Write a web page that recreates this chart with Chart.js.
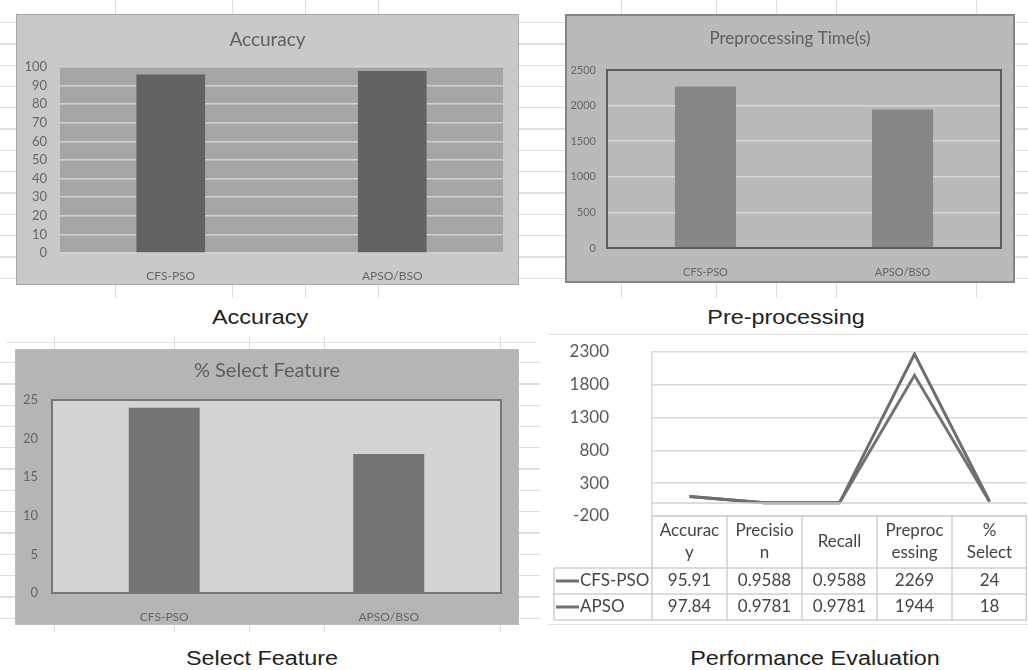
<!DOCTYPE html>
<html>
<head>
<meta charset="utf-8">
<title>Performance Evaluation</title>
<script src="https://cdn.jsdelivr.net/npm/chart.js@4.4.0/dist/chart.umd.min.js"></script>
<style>
    body { margin: 0; width: 1028px; height: 670px; position: relative; background: #fff; overflow: hidden; font-family: Lato, sans-serif; }
    .sheet { position: absolute; background-image: repeating-linear-gradient(to bottom, transparent 0 20px, #dedede 20px 21.3px); }
    .vl { position: absolute; width: 1px; background: #dcdcdc; }
    .hl { position: absolute; height: 1px; background: #e2e2e2; }
    .panel { position: absolute; box-sizing: border-box; }
    .panel canvas, #perfChart { display: block; }
    .cap { position: absolute; font-family: 'Liberation Sans', Arial, sans-serif; font-size: 20px; color: #222;
        transform: translate(-50%, -50%) scaleX(1.17); white-space: nowrap; }
</style>
</head>
<body>
<!-- spreadsheet cell lines behind the charts -->
<div class="sheet" style="left:0;top:2px;width:1028px;height:296px;"></div>
<div class="vl" style="left:115px;top:0;height:298px"></div>
<div class="vl" style="left:232px;top:0;height:298px"></div>
<div class="vl" style="left:305px;top:0;height:298px"></div>
<div class="vl" style="left:378px;top:0;height:298px"></div>
<div class="vl" style="left:621px;top:0;height:298px"></div>
<div class="vl" style="left:716px;top:0;height:298px"></div>
<div class="vl" style="left:776px;top:0;height:298px"></div>
<div class="vl" style="left:836px;top:0;height:298px"></div>
<div class="vl" style="left:976px;top:0;height:298px"></div>
<div class="sheet" style="left:0;top:342px;width:540px;height:290px;"></div>
<div class="hl" style="left:6px;top:342px;width:530px"></div>
<div class="vl" style="left:54px;top:336px;height:296px"></div>
<div class="vl" style="left:174px;top:336px;height:296px"></div>
<div class="vl" style="left:249px;top:336px;height:296px"></div>
<div class="vl" style="left:324px;top:336px;height:296px"></div>
<div class="vl" style="left:500px;top:336px;height:296px"></div>
<div class="hl" style="left:548px;top:334px;width:480px"></div>
<div class="hl" style="left:548px;top:624px;width:480px"></div>

<div class="panel" style="left:16px;top:14px;width:503px;height:271px;border:1px solid #a8a8a8;background:#c9c9c9;">
    <canvas id="accChart" width="501" height="269"></canvas>
</div>
<div class="panel" style="left:565px;top:14px;width:450px;height:269px;border:2px solid #858585;background:#bababa;">
    <canvas id="preChart" width="446" height="265"></canvas>
</div>
<div class="panel" style="left:15px;top:349px;width:504px;height:276px;border:1px solid #bdbdbd;background:#b5b5b5;">
    <canvas id="selChart" width="502" height="274"></canvas>
</div>
<canvas id="perfChart" width="488" height="290" style="position:absolute;left:540px;top:338px;"></canvas>

<div class="cap" style="left:260px;top:317px">Accuracy</div>
<div class="cap" style="left:786px;top:317px">Pre-processing</div>
<div class="cap" style="left:262px;top:658px">Select Feature</div>
<div class="cap" style="left:815px;top:658px">Performance Evaluation</div>

<script>
// data
const methods = ['CFS-PSO', 'APSO/BSO'];
const accuracy = [95.91, 97.84];
const preprocTime = [2269, 1944];
const selectPct = [24, 18];

const perfCategories = [['Accurac', 'y'], ['Precisio', 'n'], ['Recall'], ['Preproc', 'essing'], ['%', 'Select']];
const seriesNames = ['CFS-PSO', 'APSO'];
const cfsPso = [95.91, 0.9588, 0.9588, 2269, 24];
const apso = [97.84, 0.9781, 0.9781, 1944, 18];

// fill the plot area and draw its frame
const plotBg = {
    id: 'plotBg',
    beforeDraw(chart, args, o) {
        const a = chart.chartArea, ctx = chart.ctx;
        if (o.fill) {
            ctx.save();
            ctx.fillStyle = o.fill;
            ctx.fillRect(a.left, a.top, a.width, a.height);
            ctx.restore();
        }
    },
    afterDraw(chart, args, o) {
        const a = chart.chartArea, ctx = chart.ctx;
        if (o.border) {
            ctx.save();
            ctx.strokeStyle = o.border;
            ctx.lineWidth = o.borderWidth || 2;
            ctx.strokeRect(a.left, a.top, a.width, a.height);
            ctx.restore();
        }
    }
};

function makeBar(id, values, c) {
    return new Chart(document.getElementById(id), {
        type: 'bar',
        data: {
            labels: methods,
            datasets: [{
                data: values,
                backgroundColor: c.bar,
                barPercentage: c.barPct,
                categoryPercentage: 1
            }]
        },
        options: {
            responsive: false,
            animation: false,
            layout: {padding: 0},
            plugins: {
                legend: {display: false},
                tooltip: {enabled: false},
                title: {
                    display: true,
                    text: c.title,
                    color: '#5e5e5e',
                    font: {family: 'Lato', size: c.titleSize, weight: 'normal'},
                    padding: {top: c.titleTop, bottom: c.titleBottom}
                },
                plotBg: {fill: c.plotFill, border: c.plotBorder, borderWidth: 2}
            },
            scales: {
                x: {
                    grid: {display: false},
                    border: {display: false},
                    ticks: {color: '#666', font: {family: 'Lato', size: c.xFont}, padding: c.xPad},
                    afterFit: s => { s.height = c.xH; }
                },
                y: {
                    min: 0,
                    max: c.max,
                    ticks: {stepSize: c.step, color: '#666', font: {family: 'Lato', size: c.yFont}, padding: c.yPad,
                        callback: v => String(v)},
                    grid: {display: !!c.gridColor, color: c.gridColor, lineWidth: 1.5, drawTicks: false},
                    border: {display: false},
                    afterFit: s => { s.width = c.yW; }
                },
                // empty right margin, keeps the title centred on the whole panel
                yRight: {
                    position: 'right',
                    grid: {display: false},
                    border: {display: false},
                    ticks: {display: false},
                    afterFit: s => { s.width = c.padRight; }
                }
            }
        },
        plugins: [plotBg]
    });
}

makeBar('accChart', accuracy, {
    title: 'Accuracy', titleSize: 19, titleTop: 13.6, titleBottom: 15.6,
    bar: '#636363', barPct: 0.31, plotFill: '#a6a6a6', gridColor: '#d2d2d2',
    max: 100, step: 10, yW: 43, yPad: 13, yFont: 13, xH: 31, xPad: 8, xFont: 12, padRight: 15
});

makeBar('preChart', preprocTime, {
    title: 'Preprocessing Time(s)', titleSize: 17, titleTop: 12.8, titleBottom: 20.8,
    bar: '#878787', barPct: 0.31, plotFill: '#bababa', plotBorder: '#5c5c5c', gridColor: '#d6d6d6',
    max: 2500, step: 500, yW: 40, yPad: 11, yFont: 11, xH: 33, xPad: 10, xFont: 11, padRight: 12
});

makeBar('selChart', selectPct, {
    title: '% Select Feature', titleSize: 20, titleTop: 9, titleBottom: 17,
    bar: '#747474', barPct: 0.316, plotFill: '#d3d3d3', plotBorder: '#767676', gridColor: null,
    max: 25, step: 5, yW: 36, yPad: 14, yFont: 13, xH: 31, xPad: 9, xFont: 12, padRight: 17
});

// line chart with the data table underneath
const tableLine = '#cfcfcf';
const dataTable = {
    id: 'dataTable',
    afterDraw(chart) {
        const ctx = chart.ctx, a = chart.chartArea, x = chart.scales.x, y = chart.scales.y;
        const colW = x.getPixelForValue(1) - x.getPixelForValue(0);
        const headTop = a.bottom, headBot = headTop + 52;
        const rowH = 26;
        const tableBot = headBot + rowH * 2;
        const legLeft = a.left - 98;

        ctx.save();
        // zero line (category axis)
        ctx.strokeStyle = '#d0d0d0';
        ctx.lineWidth = 1.5;
        ctx.beginPath();
        ctx.moveTo(a.left, y.getPixelForValue(0));
        ctx.lineTo(a.right, y.getPixelForValue(0));
        ctx.stroke();

        ctx.strokeStyle = tableLine;
        ctx.beginPath();
        ctx.moveTo(a.left, headTop); ctx.lineTo(a.right, headTop);
        for (let r = 0; r <= 2; r++) {
            ctx.moveTo(legLeft, headBot + r * rowH);
            ctx.lineTo(a.right, headBot + r * rowH);
        }
        for (let i = 0; i <= perfCategories.length; i++) {
            const px = Math.min(x.getPixelForValue(0) - colW / 2 + i * colW, a.right - 0.75);
            ctx.moveTo(px, headTop); ctx.lineTo(px, tableBot);
        }
        ctx.moveTo(legLeft, headBot); ctx.lineTo(legLeft, tableBot);
        ctx.stroke();

        ctx.fillStyle = '#444';
        ctx.font = '17px Lato';
        ctx.textAlign = 'center';
        ctx.textBaseline = 'middle';
        perfCategories.forEach((lines, i) => {
            const cx = x.getPixelForValue(i);
            if (lines.length === 1) {
                ctx.fillText(lines[0], cx, headTop + 26);
            } else {
                ctx.fillText(lines[0], cx, headTop + 15);
                ctx.fillText(lines[1], cx, headTop + 37);
            }
        });

        chart.data.datasets.forEach((ds, r) => {
            const cy = headBot + rowH * r + rowH / 2;
            ds.data.forEach((v, i) => {
                ctx.fillText(String(v), x.getPixelForValue(i), cy);
            });
            ctx.strokeStyle = ds.borderColor;
            ctx.lineWidth = 3;
            ctx.beginPath();
            ctx.moveTo(legLeft + 2, cy); ctx.lineTo(legLeft + 25, cy);
            ctx.stroke();
            ctx.textAlign = 'left';
            ctx.fillText(ds.label, legLeft + 26, cy);
            ctx.textAlign = 'center';
        });
        ctx.restore();
    }
};

new Chart(document.getElementById('perfChart'), {
    type: 'line',
    data: {
        labels: perfCategories,
        datasets: [
            {label: seriesNames[0], data: cfsPso, borderColor: '#6e6e6e', borderWidth: 3, pointRadius: 0, tension: 0},
            {label: seriesNames[1], data: apso, borderColor: '#727272', borderWidth: 3, pointRadius: 0, tension: 0}
        ]
    },
    options: {
        responsive: false,
        animation: false,
        layout: {padding: {left: 0, right: 1, top: 14, bottom: 0}},
        plugins: {legend: {display: false}, tooltip: {enabled: false}},
        scales: {
            x: {
                offset: true,
                grid: {display: false},
                border: {display: false},
                ticks: {display: false},
                afterFit: s => { s.height = 112; }
            },
            y: {
                min: -200,
                max: 2300,
                ticks: {stepSize: 500, color: '#595959', font: {family: 'Lato', size: 17}, padding: 43,
                    callback: v => String(v)},
                grid: {color: '#d9d9d9', lineWidth: 1.5, drawTicks: false},
                border: {display: true, color: '#d9d9d9', width: 1.5},
                // the wide label gap should not push the plot down
                afterFit: s => { s.width = 112; s.paddingTop = 10; s.paddingBottom = 10; }
            }
        }
    },
    plugins: [dataTable]
});
</script>
</body>
</html>
